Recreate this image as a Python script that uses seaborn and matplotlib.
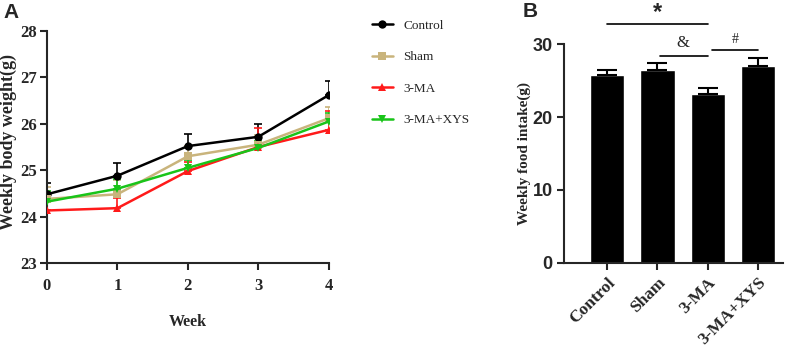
import numpy as np
import pandas as pd
import seaborn as sns
import matplotlib.pyplot as plt

# panel A data: weekly body weight
weeks = [0, 1, 2, 3, 4]
groups = ["Control", "Sham", "3-MA", "3-MA+XYS"]
control_w = [24.48, 24.88, 25.52, 25.72, 26.62]
sham_w = [24.38, 24.48, 25.30, 25.55, 26.12]
ma_w = [24.13, 24.18, 24.98, 25.50, 25.87]
xys_w = [24.32, 24.60, 25.05, 25.48, 26.05]
control_err = [0.24, 0.27, 0.26, 0.27, 0.30]
sham_err = [0.25, 0.30, 0.22, 0.20, 0.25]
ma_err = [0.25, 0.22, 0.20, 0.42, 0.40]
xys_err = [0.22, 0.20, 0.18, 0.15, 0.18]

# panel B data: weekly food intake
food = [25.8, 26.4, 23.1, 27.0]
food_err = [0.65, 1.05, 0.85, 1.1]

colors = ["#000000", "#C9B47C", "#FF1A1A", "#19C419"]
markers = ["o", "s", "^", "v"]

sns.set_theme(style="ticks")
plt.rcParams["font.family"] = ["Liberation Serif", "DejaVu Serif"]
plt.rcParams["font.weight"] = "bold"

fig = plt.figure(figsize=(7.96, 3.5), dpi=100)
axA = fig.add_axes([0.059, 0.249, 0.354, 0.662])
axB = fig.add_axes([0.709, 0.249, 0.275, 0.625])

rows = []
for g, vals in zip(groups, [control_w, sham_w, ma_w, xys_w]):
    for w, v in zip(weeks, vals):
        rows.append({"week": w, "weight": v, "group": g})
df = pd.DataFrame(rows)

for g, vals, errs, c in zip(groups, [control_w, sham_w, ma_w, xys_w],
                            [control_err, sham_err, ma_err, xys_err], colors):
    axA.errorbar(weeks, vals, yerr=[np.zeros(5), errs], fmt="none",
                 ecolor=c, elinewidth=1.2, capsize=3, capthick=1.2, zorder=1)

sns.lineplot(data=df, x="week", y="weight", hue="group", style="group",
             palette=colors, markers=markers, dashes=False, linewidth=1.8,
             markersize=6, markeredgewidth=0, ax=axA, zorder=3)

axA.set_xlim(0, 4)
axA.set_ylim(23, 28)
axA.set_xticks(weeks)
axA.set_yticks([23, 24, 25, 26, 27, 28])
axA.set_xlabel("Week", fontsize=11.5, fontweight="bold", labelpad=14)
axA.set_ylabel("Weekly body weight(g)", fontsize=13, fontweight="bold")
axA.yaxis.set_label_coords(-0.105, 0.52)
axA.tick_params(labelsize=12, width=1.5, length=5)
axA.tick_params(axis="x", pad=6)
axA.tick_params(axis="y", pad=2)
for lab in axA.get_xticklabels() + axA.get_yticklabels():
    lab.set_fontweight("bold")
for s in ["left", "bottom"]:
    axA.spines[s].set_linewidth(1.5)
sns.despine(ax=axA)
leg = axA.legend(title=None, frameon=False, loc="upper left",
                 bbox_to_anchor=(1.11, 1.1), labelspacing=1.45,
                 handlelength=1.6, prop={"weight": "normal", "size": 9.5})
fig.text(0.004, 0.965, "A", fontsize=15, fontweight="bold",
         family="Liberation Sans", va="center", ha="left")

# panel B
sns.barplot(x=groups, y=food, color="black", width=0.68, ax=axB,
            errorbar=None, saturation=1)
axB.errorbar(range(4), food, yerr=[np.zeros(4), food_err], fmt="none",
             ecolor="black", elinewidth=1.5, capsize=7, capthick=1.5)
axB.set_ylim(0, 30)
axB.set_xlim(-0.85, 3.5)
axB.set_yticks([0, 10, 20, 30])
axB.set_ylabel("Weekly food intake(g)", fontsize=11, fontweight="bold", labelpad=1)
axB.tick_params(width=1.5, length=5)
for lab in axB.get_yticklabels():
    lab.set_family("Liberation Sans")
    lab.set_fontweight("bold")
    lab.set_fontsize(13)
for lab in axB.get_xticklabels():
    lab.set_rotation(45)
    lab.set_ha("right")
    lab.set_rotation_mode("anchor")
    lab.set_fontweight("bold")
    lab.set_fontsize(12.5)
for s in ["left", "bottom"]:
    axB.spines[s].set_linewidth(1.5)
sns.despine(ax=axB)

# significance marks
axB.plot([0, 2], [32.7, 32.7], color="black", lw=1.2, clip_on=False)
axB.text(1, 34.3, "*", ha="center", va="center", fontsize=17,
         fontweight="bold", family="Liberation Sans")
axB.plot([1.05, 2], [28.4, 28.4], color="black", lw=1.2, clip_on=False)
axB.text(1.5, 29.0, "&", ha="center", va="bottom", fontsize=12, fontweight="normal")
axB.plot([2.08, 3], [29.2, 29.2], color="black", lw=1.2, clip_on=False)
axB.text(2.54, 29.8, "#", ha="center", va="bottom", fontsize=10, fontweight="normal")
fig.text(0.657, 0.966, "B", fontsize=15, fontweight="bold",
         family="Liberation Sans", va="center", ha="left")

fig.savefig("out.png", dpi=100)
